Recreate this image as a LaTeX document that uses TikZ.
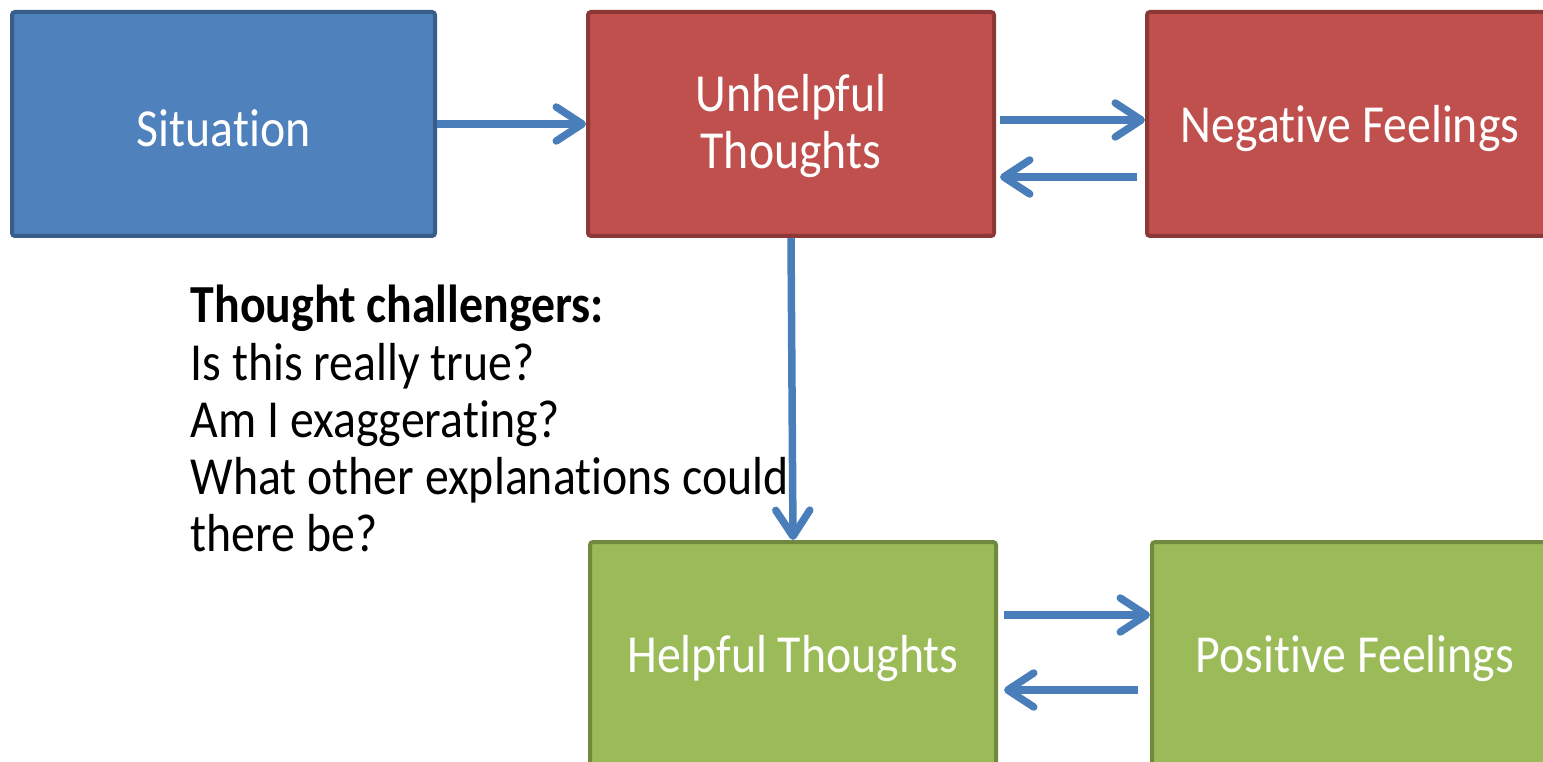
\documentclass[tikz,border=0pt]{standalone}
\usepackage{fontspec}
\setmainfont[Ligatures=NoCommon]{Carlito}
\usepackage{graphicx}
\usetikzlibrary{arrows.meta}
\definecolor{sitblue}{HTML}{4F81BD}
\definecolor{sitblueline}{HTML}{385D8A}
\definecolor{badred}{HTML}{C0504D}
\definecolor{badredline}{HTML}{8C3836}
\definecolor{goodgreen}{HTML}{9BBB59}
\definecolor{goodgreenline}{HTML}{71893F}
\definecolor{flowblue}{HTML}{4A7EBB}
\newcommand{\tallbox}[1]{\raisebox{-0.45mm}[\height][\depth]{\scalebox{1}[1.12]{#1}}}
\newcommand{\nolig}{\kern0pt }

\begin{document}
\begin{tikzpicture}[x=0.1mm, y=-0.1mm,
		box/.style={draw, line width=0.4mm, rounded corners=0.3mm, minimum width=40.6mm, minimum height=22.4mm, inner sep=0pt, text=white, font=\fontsize{13.6}{14.5}\selectfont},
		situation/.style={box, fill=sitblue, draw=sitblueline, minimum width=42.3mm},
		unhelpful/.style={box, fill=badred, draw=badredline},
		helpful/.style={box, fill=goodgreen, draw=goodgreenline},
		flow/.style={draw=flowblue, line width=0.75mm, -{Straight Barb[length=2.6mm, width=3.4mm, round]}}]
	\useasboundingbox (0,0) rectangle (1543,762);
	\clip (0,0) rectangle (1543,762);
	\node[situation] (sit) at (223.5,124) {\tallbox{Situat\nolig ion}};
	\node[unhelpful] (unh) at (791,124) {\tallbox{\begin{tabular}{@{}c@{}}Unhelpful\\ Thoughts\end{tabular}}};
	\node[unhelpful] (neg) at (1350,124) {\tallbox{Negat\nolig ive Feelings}};
	\node[helpful] (hel) at (793,654) {\tallbox{Helpful Thoughts}};
	\node[helpful] (pos) at (1355,654) {\tallbox{Posit\nolig ive Feelings}};
	\node[anchor=base west, inner sep=0pt, font=\fontsize{13.6}{14.5}\selectfont] (challengers) at (190,323)
		{\scalebox{1}[1.12]{\begin{tabular}[t]{@{}l@{}}\textbf{Thought challengers:}\\ Is this really true?\\ Am I exaggerat\nolig ing?\\ What other explanat\nolig ions could\\ there be?\end{tabular}}};
	\draw[flow] (sit.east) -- (unh.west);
	\draw[flow] ([xshift=0.4mm, yshift=0.4mm]unh.east) -- ([yshift=0.4mm]neg.west);
	\draw[flow] ([xshift=-0.8mm, yshift=-5.3mm]neg.west) -- ([xshift=0.4mm, yshift=-5.3mm]unh.east);
	\draw[flow] (unh.south) -- (hel.north);
	\draw[flow] ([xshift=0.6mm, yshift=3.9mm]hel.east) -- ([yshift=3.9mm]pos.west);
	\draw[flow] ([xshift=-1.2mm, yshift=-3.6mm]pos.west) -- ([xshift=0.6mm, yshift=-3.6mm]hel.east);
\end{tikzpicture}
\end{document}
